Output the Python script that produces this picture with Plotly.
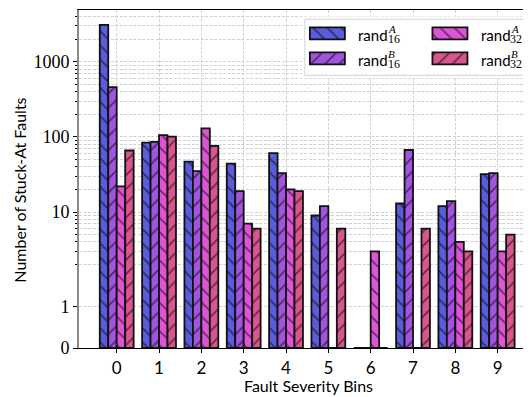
import numpy as np
import plotly.graph_objects as go

# ---------------- data ----------------
bins = [0, 1, 2, 3, 4, 5, 6, 7, 8, 9]
bin_labels = ["0", "1", "2", "3", "4", "5", "6", "7", "8", "9"]
rand16A = [3100, 84, 47, 44, 61, 9, 0, 13, 12, 32]
rand16B = [460, 86, 35, 19, 33, 12, 0, 67, 14, 33]
rand32A = [22, 106, 130, 7, 20, 0, 3, 0, 4, 3]
rand32B = [66, 101, 76, 6, 19, 6, 0, 6, 3, 5]
y_tick_values = [0, 1, 10, 100, 1000]
y_tick_labels = ["0", "1", "10", "100", "1000"]
y_minor_values = [m * 10 ** e for e in range(0, 4) for m in range(2, 10)]

series = [
    ("A", "16", rand16A, "#5b5bdb", "\\"),
    ("B", "16", rand16B, "#a155de", "/"),
    ("A", "32", rand32A, "#dd55d6", "\\"),
    ("B", "32", rand32B, "#d9558d", "/"),
]

# symmetric-log scale (linthresh = 2, linscale = 1, base 10)
LINTHRESH = 2.0
LINSCALE_ADJ = 1.0 / (1.0 - 1.0 / 10.0)


def symlog(v):
    v = np.asarray(v, dtype=float)
    lin = v / LINTHRESH * LINSCALE_ADJ
    lg = LINSCALE_ADJ + np.log10(np.maximum(v, LINTHRESH) / LINTHRESH)
    return np.where(v <= LINTHRESH, lin, lg)


Y_TOP = 4.50
minor_vals = [v for v in y_minor_values if symlog(v) <= Y_TOP]

# page body has an 8px margin -> figure is offset by 8px
OFF = 8
W, H = 531 - OFF, 397 - OFF
PL, PT, PB, PR = 79.3, 9.5, 348.5, 531      # plot area in page pixels
PW, PH = PR - PL, PB - PT
ML, MR, MT, MB = PL - OFF, 0, PT - OFF, H - (PB - OFF)


def px_x(X):
    return (X - PL) / PW


def px_y(Y):
    return (PB - Y) / PH


fig = go.Figure()

pattern_common = dict(fgcolor="black", size=10, solidity=0.18, fillmode="overlay")

for sup, sub, vals, col, hatch in series:
    fig.add_trace(go.Bar(
        x=bins, y=symlog(vals),
        marker=dict(color=col, line=dict(color="#111111", width=1.8),
                    pattern=dict(shape=hatch, **pattern_common)),
        showlegend=False, hoverinfo="skip",
    ))

# ---------------- hand-made legend (inset subplot in page-pixel units) ----
LX0, LX1, LY0, LY1 = 302, 531, 16.0, 78.0
BX0, BX1, BY0, BY1 = 305, 528, 18.7, 75.0
fig.add_trace(go.Bar(
    y=[(BY0 + BY1) / 2], x=[BX1 - BX0], base=[BX0], orientation="h",
    width=[BY1 - BY0], offset=-(BY1 - BY0) / 2,
    marker=dict(color="rgba(255,255,255,0.93)", line=dict(color="#d2d2d2", width=1)),
    xaxis="x2", yaxis="y2", showlegend=False, hoverinfo="skip"))

legend_pos = [(310, 33), (310, 58), (432.5, 33), (432.5, 58)]
for (sup, sub, vals, col, hatch), (px, py) in zip(series, legend_pos):
    fig.add_trace(go.Bar(
        y=[py], x=[35], base=[px], orientation="h", width=[12], offset=-6,
        marker=dict(color=col, line=dict(color="#111111", width=1.8),
                    pattern=dict(shape=hatch, **pattern_common)),
        xaxis="x2", yaxis="y2", showlegend=False, hoverinfo="skip"))
    tx = px + 47.5
    fig.add_annotation(x=tx, y=py + 1.5, xref="x2", yref="y2", text="rand",
                       showarrow=False, xanchor="left", yanchor="middle",
                       borderpad=0,
                       font=dict(family="Lato", size=15, color="black"))
    fig.add_annotation(x=tx + 30, y=py - 4, xref="x2", yref="y2",
                       text="<i>%s</i>" % sup, showarrow=False,
                       xanchor="left", yanchor="middle", borderpad=0,
                       font=dict(family="Liberation Serif", size=11, color="black"))
    fig.add_annotation(x=tx + 29.5, y=py + 5.5, xref="x2", yref="y2",
                       text=sub, showarrow=False,
                       xanchor="left", yanchor="middle", borderpad=0,
                       font=dict(family="Liberation Serif", size=12, color="black"))

# ---------------- axis titles ----------------
fig.add_annotation(x=px_x(308.5), y=px_y(386), xref="paper", yref="paper",
                   text="Fault Severity Bins", showarrow=False,
                   xanchor="center", yanchor="middle",
                   font=dict(family="Lato", size=16, color="black"))
fig.add_annotation(x=px_x(20), y=px_y(190), xref="paper", yref="paper",
                   text="Number of Stuck-At Faults", showarrow=False, textangle=-90,
                   xanchor="center", yanchor="middle",
                   font=dict(family="Lato", size=16, color="black"))

grid_color = "#d3d3d3"
grid_dash = "3px,1.5px"

fig.update_layout(
    width=W, height=H,
    margin=dict(l=ML, r=MR, t=MT, b=MB, pad=0, autoexpand=False),
    paper_bgcolor="white", plot_bgcolor="white",
    barmode="group", bargap=0.2, bargroupgap=0.0,
    showlegend=False,
    xaxis=dict(
        range=[-0.891, -0.891 + PW / 42.3], tickmode="array", tickvals=bins,
        ticktext=bin_labels, ticks="outside", ticklen=4, tickwidth=1,
        tickcolor="black", showline=True, linecolor="black", linewidth=1.3,
        mirror=True, showgrid=True, gridcolor=grid_color, gridwidth=0.8,
        griddash=grid_dash, zeroline=False, fixedrange=True,
        tickfont=dict(family="Lato", size=17, color="black"),
    ),
    yaxis=dict(
        range=[0, Y_TOP], tickmode="array", tickvals=list(symlog(y_tick_values)),
        ticktext=y_tick_labels, ticks="outside", ticklen=4, tickwidth=1,
        tickcolor="black", showline=True, linecolor="#8a8a8a", linewidth=1.6,
        showgrid=True, gridcolor=grid_color, gridwidth=0.8, griddash=grid_dash,
        zeroline=False, fixedrange=True,
        tickfont=dict(family="Liberation Serif", size=18, color="black"),
        minor=dict(tickmode="array", tickvals=list(symlog(minor_vals)),
                   ticks="outside", ticklen=2.5, tickwidth=0.8, tickcolor="black",
                   showgrid=True, gridcolor=grid_color, gridwidth=0.8,
                   griddash=grid_dash),
    ),
    xaxis2=dict(domain=[px_x(LX0), px_x(LX1)], range=[LX0, LX1],
                visible=False, fixedrange=True, anchor="y2"),
    yaxis2=dict(domain=[px_y(LY1), px_y(LY0)],
                range=[LY1, LY0], visible=False, fixedrange=True, anchor="x2"),
)

fig.write_html("out.html")
